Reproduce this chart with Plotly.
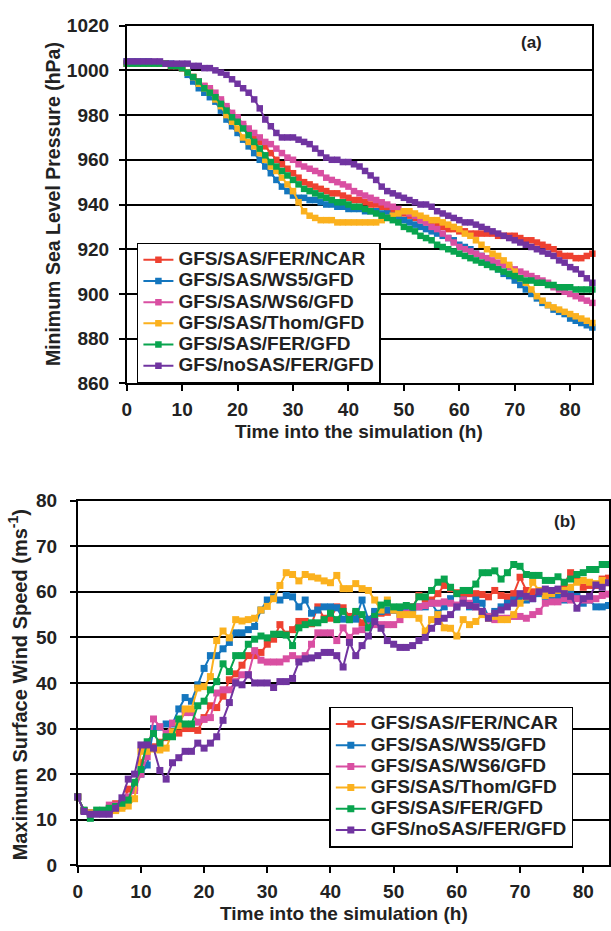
import plotly.graph_objects as go

# ---------------- data ----------------
hours = list(range(0, 85))

series_names = ["GFS/SAS/FER/NCAR", "GFS/SAS/WS5/GFD", "GFS/SAS/WS6/GFD",
                "GFS/SAS/Thom/GFD", "GFS/SAS/FER/GFD", "GFS/noSAS/FER/GFD"]
series_colors = ["#EE4130", "#1476BE", "#D94FA2", "#FBB11E", "#08A44E", "#7034A0"]

# Minimum sea level pressure (hPa), panel (a)
red_p = [1003,1003,1003,1003,1003,1003,1003,1003,1002,1002,
         1001,999,997,995,993,991,988,986,983,980,
         978,975,973,970,968,966,963,960,958,956,
         954,952,950,949,948,947,946,945,945,944,
         943,942,942,941,940,940,939,938,937,937,
         936,935,934,933,932,931,931,930,929,929,
         928,928,927,927,927,927,927,926,926,926,
         926,925,924,924,923,922,921,920,918,917,
         917,916,916,917,918]
blue_p = [1004,1004,1004,1004,1004,1003,1003,1003,1003,1002,
          1001,998,995,992,990,988,986,982,978,975,
          972,969,966,963,960,957,954,951,948,946,
          944,943,943,942,942,941,940,940,939,939,
          938,938,938,937,937,937,936,936,935,934,
          933,932,931,930,929,928,927,926,925,924,
          922,921,920,918,917,915,913,911,909,908,
          906,904,902,900,898,896,895,893,892,891,
          889,888,887,886,885]
mag_p = [1003,1003,1003,1003,1003,1003,1003,1003,1002,1002,
         1001,999,997,995,993,992,990,987,984,981,
         979,976,974,972,970,968,967,965,963,961,
         960,958,957,956,955,954,952,951,950,949,
         948,946,945,944,943,942,941,940,939,938,
         937,936,935,933,932,930,929,927,925,923,
         921,920,919,918,917,916,915,914,913,912,
         911,910,909,908,907,906,905,903,902,901,
         900,899,898,897,896]
yel_p = [1003,1003,1003,1003,1003,1003,1003,1003,1002,1002,
         1001,999,997,994,992,990,987,984,980,977,
         974,970,968,966,963,960,957,955,952,949,
         946,941,937,935,934,933,933,933,932,932,
         932,932,932,932,932,932,933,934,935,936,
         937,937,936,935,934,933,933,932,931,930,
         929,927,926,924,922,920,918,917,915,913,
         910,907,905,902,899,897,895,894,893,892,
         891,890,889,888,887]
grn_p = [1003,1003,1003,1003,1003,1003,1003,1003,1002,1002,
         1001,999,997,995,992,990,988,985,982,979,
         977,974,971,968,965,962,959,957,955,953,
         951,949,947,946,945,944,943,942,941,941,
         940,939,939,938,937,936,935,934,933,932,
         930,929,928,926,925,924,922,921,920,919,
         918,917,916,915,914,913,912,911,910,909,
         908,907,906,906,905,905,904,904,903,903,
         903,902,902,902,902]
pur_p = [1004,1004,1004,1004,1004,1004,1004,1003,1003,1003,
         1003,1003,1002,1002,1001,1001,1000,999,998,996,
         994,992,990,987,983,978,975,972,970,970,
         970,969,968,967,965,963,961,960,960,959,
         959,958,957,955,953,951,948,946,945,944,
         943,942,941,940,940,939,937,936,935,934,
         933,932,932,931,930,929,928,927,926,925,
         924,923,922,921,920,919,918,917,915,914,
         912,911,909,907,905]

# Maximum surface wind speed (m/s), panel (b)
red_w = [15,12,11.5,11.5,12,12.5,13.5,13,16.7,17,
         22.5,25.5,26,27,28,28.5,29,30,30,29.6,
         32.4,35,34.6,37.1,40.7,42,43.9,46,46,46.7,
         48.5,49.6,52.8,50.7,51.7,53.5,53.5,53,56.7,54.2,
         54.2,56.7,56.5,54.6,55.3,53.2,54,55.5,55.3,55.5,
         56,56,56.3,56.7,59.2,58.5,58.2,59.6,61.4,60.7,
         59.8,59.4,59.6,59.6,59.4,58.9,60.3,59.2,58.9,59.6,
         63.2,60.3,60,59.8,59.8,60,60.3,61.8,64.2,62.5,
         61,61.4,61.4,62.8,63]
blue_w = [15,12,11.5,11.5,11.8,12,12.2,13,14.5,17,
          20,22,30,30.3,31,31,34.3,36.8,36,39.6,
          43.2,46,46,47.5,48.9,51,51,51.7,52.4,56,
          58.2,58.9,58.2,59.2,58.9,56.7,58.2,55.3,56,56.7,
          56.7,56.5,54,53.9,54,58.2,53.9,55.7,55.7,56,
          56,55.3,55.7,56,56.7,56.7,57.5,55.3,56.7,58.5,
          56.7,58.2,56.7,58.2,57.5,54.6,55.7,56.7,57.5,58.2,
          58.2,58.2,58.5,59.6,59,58.2,59,58.2,59.6,59,
          57.5,58.2,56.7,56.7,57]
mag_w = [15,12,11.5,11.5,12,13.2,13.2,13.5,15,16.4,
         20,23.8,32.1,30.4,28.9,31.2,31.2,33.5,33.5,31.4,
         32,32.4,37.8,38.5,38.5,40.3,41.8,41.8,47.1,45,
         44.6,44.6,44.6,45.3,46,45.3,46,48.5,51,51,
         51,49.3,52.1,50,51.4,51.7,52.5,52.8,52.8,52.8,
         52.8,53.9,55.3,56.7,56.7,57,57.5,57.5,57.8,57.5,
         57.1,58.2,57.5,56.7,55.7,54.6,53.9,54.2,54.2,54.6,
         54.6,54.2,55,55.7,57.5,57.8,57.8,58.5,58.2,58.5,
         58.2,58.2,58.5,59.2,59.5]
yel_w = [15,12,11.5,11.5,11.5,11.8,12,12.5,13,14.6,
         25,25,25.5,25.3,25.7,29.3,30.6,34.3,34.3,38.9,
         39.2,41.4,49.3,51.4,49.9,53.9,53.6,53.9,54.2,56,
         56.8,58.5,61.4,64.2,63.8,62.4,63.8,63.3,63,62.4,
         62,63.6,60.7,60.7,61.8,60.7,60.3,58.2,56,58.2,
         56,55,55,55,54.2,51.4,53.9,55,52.1,52,
         50.3,53.9,52.8,53.5,55,54.2,54.6,53.9,53.9,55,
         57.5,58.9,62.1,60.3,59.2,59.6,60.3,60.3,61,62.1,
         62.5,62.1,61.8,62.5,62]
grn_w = [15,12.1,10.3,12.1,12.1,12.5,12.9,13.6,14.3,18.2,
         21,27.1,28.9,26.8,28.2,28.2,32.1,31,31,35,
         36,38.5,40.3,44.2,42.5,46,46,48.5,49.6,50.3,
         49.9,50.7,50.7,50.5,48.2,52.1,52.8,53.2,53.2,53.9,
         55.3,53.9,55.7,53.9,55.7,55,52.1,54.6,57.1,57.5,
         56.7,56.7,57,56.7,58.9,58.9,60.3,62.1,62.8,61,
         59.6,60.3,60.3,61.7,64.2,64.2,64.6,62.8,64.2,66,
         65.6,63.8,63.6,63.6,62.5,62.5,63.3,62.1,62.8,63.8,
         64.2,64.9,64.9,66,66]
pur_w = [15,11.8,11.2,11.2,11.2,11.2,12.5,14.8,18.9,20,
         26.4,26.4,25.7,20.8,18.9,22.5,23.6,25,25,26.8,
         25.7,26.8,28.2,31.8,35.7,40,39.6,41.8,40,40,
         40,39,40.3,40.3,41,44.6,45.3,45.5,46,46.7,
         46.7,46,43.5,48.9,46,48.2,50.3,53.5,52,49.3,
         48.5,47.8,47.8,48.2,49.3,50,52,53.5,54.2,55,
         56.7,57.5,57,56.7,55.7,54.2,55.3,56,56.7,57.5,
         59.6,59,58.5,60,60.6,60.3,60.6,59.6,59,56.4,
         58.5,59,61.5,61,62]

pressure_series = [red_p, blue_p, mag_p, yel_p, grn_p, pur_p]
wind_series = [red_w, blue_w, mag_w, yel_w, grn_w, pur_w]

p_ticks = [860, 880, 900, 920, 940, 960, 980, 1000, 1020]
w_ticks = [0, 10, 20, 30, 40, 50, 60, 70, 80]
x_ticks = [0, 10, 20, 30, 40, 50, 60, 70, 80]

# ---------------- figure ----------------
W, H = 611, 931
FONT = "Liberation Sans, Arial, sans-serif"

def px_x(v):
    return v / W

def px_y(v):
    return 1 - v / H

fig = go.Figure()

for name, col, ys in zip(series_names, series_colors, pressure_series):
    fig.add_trace(go.Scatter(
        x=hours, y=ys, mode="lines+markers",
        name=f'<span style="font-size:19px">{name}</span>',
        line=dict(color=col, width=2),
        marker=dict(symbol="square", size=6.5, color=col),
        xaxis="x", yaxis="y", legend="legend", cliponaxis=False))

for name, col, ys in zip(series_names, series_colors, wind_series):
    fig.add_trace(go.Scatter(
        x=hours, y=ys, mode="lines+markers",
        name=f'<span style="font-size:19px">{name}</span>',
        line=dict(color=col, width=2),
        marker=dict(symbol="square", size=7, color=col),
        xaxis="x2", yaxis="y2", legend="legend2", cliponaxis=False))

axis_common = dict(
    showline=True, linecolor="black", linewidth=1.5, mirror=True,
    zeroline=False, ticks="outside", ticklen=6,
    tickcolor="black", tickwidth=1.5,
    tickfont=dict(family=FONT, size=19, color="#222", weight="bold"),
)

fig.update_layout(
    width=W, height=H, autosize=False,
    margin=dict(l=0, r=0, t=0, b=0),
    paper_bgcolor="white", plot_bgcolor="white",
    font=dict(family=FONT, color="#222"),
    xaxis=dict(domain=[px_x(122.7), px_x(592.2)], range=[0, 84],
               tickvals=x_ticks, anchor="y", showgrid=False,
               ticklabelstandoff=2, **axis_common),
    yaxis=dict(domain=[px_y(382), px_y(16)], range=[860, 1020],
               tickvals=p_ticks, anchor="x", showgrid=True,
               gridcolor="black", gridwidth=1.5, ticklabelstandoff=6,
               **axis_common),
    xaxis2=dict(domain=[px_x(73.3), px_x(608.5)], range=[0, 84],
                tickvals=x_ticks, anchor="y2", showgrid=False,
                ticklabelstandoff=2, **axis_common),
    yaxis2=dict(domain=[px_y(875), px_y(502)], range=[0, 80],
                tickvals=w_ticks, anchor="x2", showgrid=True,
                gridcolor="black", gridwidth=1.5, ticklabelstandoff=9,
                **axis_common),
    legend=dict(x=px_x(133), y=px_y(238), xanchor="left", yanchor="top",
                bgcolor="white", bordercolor="black", borderwidth=1.5,
                font=dict(family=FONT, size=14, color="#222", weight="bold")),
    legend2=dict(x=px_x(327), y=px_y(713), xanchor="left", yanchor="top",
                 bgcolor="white", bordercolor="black", borderwidth=1.5,
                 font=dict(family=FONT, size=14, color="#222", weight="bold")),
    showlegend=True,
)

title_font = dict(family=FONT, size=19, color="#222", weight="bold")
annotations = [
    dict(text="Minimum Sea Level Pressure (hPa)", x=px_x(48), y=px_y(199),
         textangle=-90, font=dict(family=FONT, size=19.5, color="#222", weight="bold")),
    dict(text="Time into the simulation (h)", x=px_x(357), y=px_y(431),
         font=title_font),
    dict(text="Maximum Surface Wind Speed (ms<sup>-1</sup>)", x=px_x(13), y=px_y(690),
         textangle=-90, font=dict(family=FONT, size=20, color="#222", weight="bold")),
    dict(text="Time into the simulation (h)", x=px_x(342), y=px_y(924),
         font=title_font),
    dict(text="(a)", x=px_x(531), y=px_y(33),
         font=dict(family=FONT, size=17, color="#222", weight="bold")),
    dict(text="(b)", x=px_x(565), y=px_y(523),
         font=dict(family=FONT, size=17, color="#222", weight="bold")),
]
for a in annotations:
    a.update(xref="paper", yref="paper", showarrow=False,
             xanchor="center", yanchor="middle")
fig.update_layout(annotations=annotations)

fig.write_html("out.html")
